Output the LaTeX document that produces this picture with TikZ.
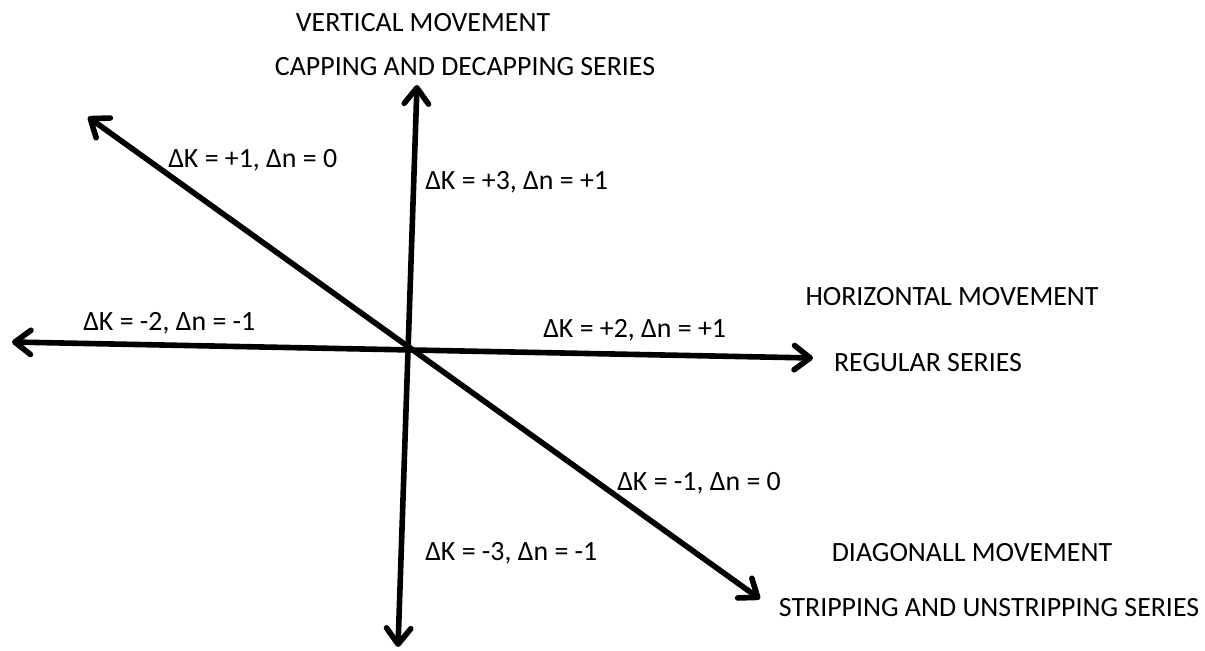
\documentclass[tikz,border=0pt]{standalone}
\usepackage{fontspec}
\setmainfont{Carlito}
\usepackage{tikz}
\usetikzlibrary{arrows.meta,positioning}
\definecolor{Ink}{RGB}{0,0,0}
\tikzset{
  axisarr/.style={{Straight Barb[length=4.2mm, width=6.4mm, round]}-{Straight Barb[length=4.2mm, width=6.4mm, round]},
    draw=Ink, line width=4.2pt, line cap=round},
  lbl/.style={text=Ink, inner sep=0pt, font=\fontsize{20.9}{25}\selectfont},
  deltalbl/.style={lbl, anchor=west},
}

\begin{document}
\begin{tikzpicture}[x=0.75pt, y=-0.75pt]
\useasboundingbox (0,0) rectangle (1205,650);

% ---------------- arrow end points ----------------
\coordinate (vtop) at (417,85);
\coordinate (vbot) at (398,647);
\coordinate (hleft) at (12,342);
\coordinate (hright) at (813,358);
\coordinate (dtop) at (88,117);
\coordinate (dbot) at (760,599);

\draw[axisarr] (vbot) -- (vtop);
\draw[axisarr] (hleft) -- (hright);
\draw[axisarr] (dtop) -- (dbot);

% ---------------- movement titles ----------------
\node[lbl] (vmove) at (423,23) {VERTICAL MOVEMENT};
\node[lbl] (vser) at (465,67) {CAPPING AND DECAPPING SERIES};
\node[lbl] (hmove) at (952,297) {HORIZONTAL MOVEMENT};
\node[lbl] (hser) at (928,363) {REGULAR SERIES};
\node[lbl] (dmove) at (972,553) {DIAGONALL MOVEMENT};
\node[lbl] (dser) at (989,608) {STRIPPING AND UNSTRIPPING SERIES};

% ---------------- step labels ----------------
\node[deltalbl] (up) at (425,182) {ΔK = +3, Δn = +1};
\node[deltalbl] (down) at (425,553) {ΔK = -3, Δn = -1};
\node[deltalbl] (right) at (543,330) {ΔK = +2, Δn = +1};
\node[deltalbl] (left) at (83,323) {ΔK = -2, Δn = -1};
\node[deltalbl] (upleft) at (168,160) {ΔK = +1, Δn = 0};
\node[deltalbl] (downright) at (617,483) {ΔK = -1, Δn = 0};

\end{tikzpicture}
\end{document}
